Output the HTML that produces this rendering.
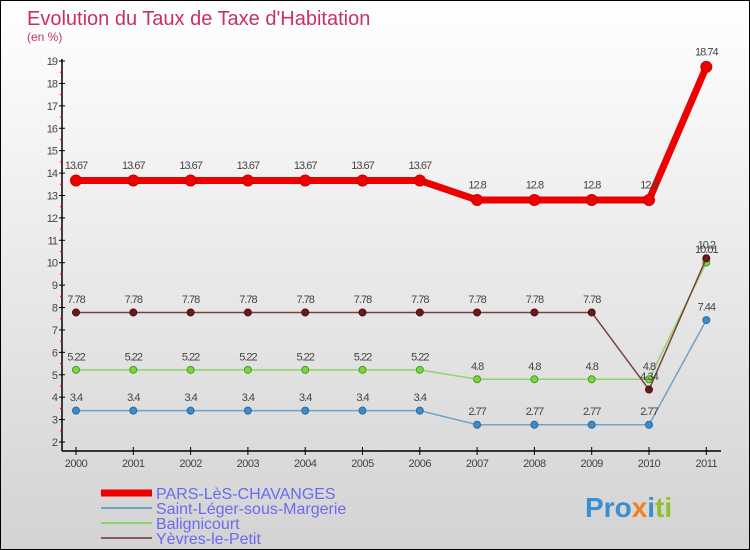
<!DOCTYPE html>
<html><head><meta charset="utf-8"><style>
body{margin:0}
#c{position:relative;width:748px;height:548px;border:1px solid #000;background:linear-gradient(#fff,#d3d3d3);overflow:hidden;font-family:"Liberation Sans",sans-serif}
</style></head><body>
<div id="c">
<svg id="s" width="748" height="548" style="position:absolute;left:0;top:0">
<text x="26" y="24" font-size="20" fill="#c8325f">Evolution du Taux de Taxe d'Habitation</text>
<text x="26" y="40" font-size="12" fill="#c8325f">(en %)</text>
<g id="axes"></g><g id="series"></g>
<g>
<line x1="100" y1="492" x2="151" y2="492" stroke="#e00" stroke-width="7"/>
<line x1="100" y1="507" x2="151" y2="507" stroke="#6fa3c8" stroke-width="2"/>
<line x1="100" y1="522" x2="151" y2="522" stroke="#8fd46b" stroke-width="2"/>
<line x1="100" y1="537" x2="151" y2="537" stroke="#8a5a5a" stroke-width="2"/>
<g font-size="16" fill="#6a6af0">
<text x="155" y="498">PARS-LèS-CHAVANGES</text>
<text x="155" y="513">Saint-Léger-sous-Margerie</text>
<text x="155" y="528">Balignicourt</text>
<text x="155" y="543">Yèvres-le-Petit</text>
</g></g>
<text x="584" y="516" font-size="28" font-weight="bold"><tspan fill="#3a8fd0">Pro</tspan><tspan fill="#f08020">x</tspan><tspan fill="#3a8fd0">i</tspan><tspan fill="#90c030">ti</tspan></text>
</svg>
</div>
<script>
const years=["2000","2001","2002","2003","2004","2005","2006","2007","2008","2009","2010","2011"];
const yTicks=[2,3,4,5,6,7,8,9,10,11,12,13,14,15,16,17,18,19];
const pars=[13.67,13.67,13.67,13.67,13.67,13.67,13.67,12.8,12.8,12.8,12.8,18.74];
const parsLbl=["13.67","13.67","13.67","13.67","13.67","13.67","13.67","12.8","12.8","12.8","12.8","18.74"];
const stleger=[3.4,3.4,3.4,3.4,3.4,3.4,3.4,2.77,2.77,2.77,2.77,7.44];
const stlegerLbl=["3.4","3.4","3.4","3.4","3.4","3.4","3.4","2.77","2.77","2.77","2.77","7.44"];
const balign=[5.22,5.22,5.22,5.22,5.22,5.22,5.22,4.8,4.8,4.8,4.8,10.01];
const balignLbl=["5.22","5.22","5.22","5.22","5.22","5.22","5.22","4.8","4.8","4.8","4.8","10.01"];
const yevres=[7.78,7.78,7.78,7.78,7.78,7.78,7.78,7.78,7.78,7.78,4.34,10.2];
const yevresLbl=["7.78","7.78","7.78","7.78","7.78","7.78","7.78","7.78","7.78","7.78","4.34","10.2"];
const NS="http://www.w3.org/2000/svg";
const X=i=>75+i*57.3;
const Y=v=>441-(v-2)*22.41;
function mk(t,a,p){const e=document.createElementNS(NS,t);for(const k in a)e.setAttribute(k,a[k]);p.appendChild(e);return e;}
const ax=document.getElementById('axes');
let l=mk('line',{x1:61,y1:450,x2:61,y2:58,stroke:'#000','stroke-width':1.5},ax);


l=mk('line',{x1:61,y1:450,x2:720,y2:450,stroke:'#000','stroke-width':1.5},ax);


yTicks.forEach(v=>{
 mk('line',{x1:58,y1:Y(v),x2:64,y2:Y(v),stroke:'#000'},ax);
 if(v<19)mk('line',{x1:59,y1:Y(v+0.5),x2:62,y2:Y(v+0.5),stroke:'#e00'},ax);
 const t=mk('text',{x:56,y:Y(v)+4,'font-size':11,fill:'#444','text-anchor':'end','letter-spacing':'-1'},ax);
 t.textContent=v;
 
 
});
years.forEach((y,i)=>{
 mk('line',{x1:X(i),y1:446,x2:X(i),y2:454,stroke:'#000'},ax);
 const t=mk('text',{x:X(i),y:466,'font-size':11,fill:'#444','text-anchor':'middle','letter-spacing':'-0.5'},ax);
 t.textContent=y;
 
 
});
const sg=document.getElementById('series');
function series(vals,lbls,name,lc,pc,pstroke,lw,r){
 const g=mk('g',{},sg);
 
 
 mk('polyline',{points:vals.map((v,i)=>X(i)+','+Y(v)).join(' '),fill:'none',stroke:lc,'stroke-width':lw,'stroke-linejoin':'round'},g);
 vals.forEach((v,i)=>{
  const c=mk('circle',{cx:X(i),cy:Y(v),r:r,fill:pc,stroke:pstroke,'stroke-width':1},g);
  
  
  const t=mk('text',{x:X(i),y:Y(v)-(r+6),'font-size':11,fill:'#444','text-anchor':'middle','letter-spacing':'-1'},g);
  t.textContent=lbls[i];
  
  
 });
}
series(stleger,stlegerLbl,'series-saint-leger','#6fa3c8','#3a8ccc','#2a6a9a',1.5,3.5);
series(balign,balignLbl,'series-balignicourt','#8fd46b','#7ad63a','#4a9a2a',1.5,3.5);
series(yevres,yevresLbl,'series-yevres','#7a4040','#6a1a1a','#4a1010',1.5,3.5);
series(pars,parsLbl,'series-pars','#e00','#e00','#c00',7,5.5);
</script>
</body></html>
